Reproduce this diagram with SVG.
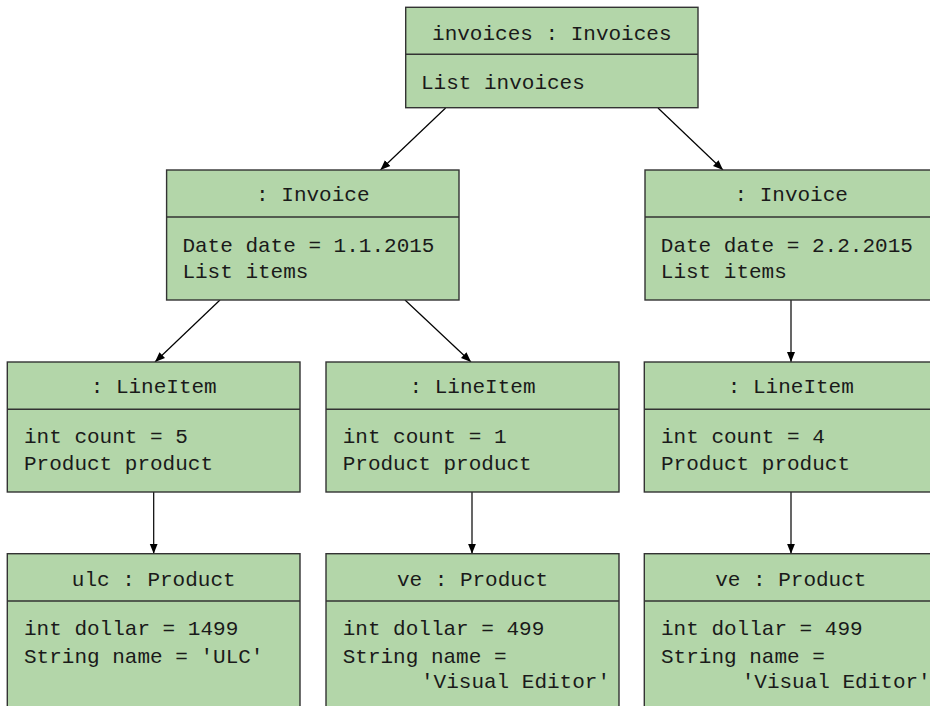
<svg xmlns="http://www.w3.org/2000/svg" width="930" height="706" viewBox="0 0 930 706">
<defs>
<style>
.box{fill:#b3d6a9;stroke:#333;stroke-width:1.4}
.div{stroke:#333;stroke-width:1.4}
.t{font-family:"Liberation Mono","Courier New",monospace;font-size:21px;fill:#1a1a1a}
.c{text-anchor:middle}
.conn{stroke:#000;stroke-width:1.2;fill:none}
</style>
<marker id="ah" viewBox="0 0 10 10" refX="10" refY="5" markerWidth="10" markerHeight="10" markerUnits="userSpaceOnUse" orient="auto">
<path d="M0,1 L10,5 L0,9 Z" fill="#000"/>
</marker>
</defs>
<rect width="930" height="706" fill="#fff"/>
<g id="connectors">
<line class="conn" x1="445.6" y1="108" x2="380.4" y2="170" marker-end="url(#ah)"/>
<line class="conn" x1="658" y1="108" x2="723" y2="170" marker-end="url(#ah)"/>
<line class="conn" x1="220" y1="300" x2="155" y2="362" marker-end="url(#ah)"/>
<line class="conn" x1="405" y1="300" x2="471" y2="362" marker-end="url(#ah)"/>
<line class="conn" x1="791" y1="300" x2="791" y2="362" marker-end="url(#ah)"/>
<line class="conn" x1="153.7" y1="492" x2="153.7" y2="553.7" marker-end="url(#ah)"/>
<line class="conn" x1="472" y1="492" x2="472" y2="553.7" marker-end="url(#ah)"/>
<line class="conn" x1="791" y1="492" x2="791" y2="553.7" marker-end="url(#ah)"/>
</g>
<g id="invoices">
<rect class="box" x="405.7" y="7.3" width="292.3" height="100.4"/>
<line class="div" x1="405.7" y1="54.3" x2="698" y2="54.3"/>
<text class="t c" x="551.8" y="40">invoices : Invoices</text>
<text class="t" x="421" y="89.3">List invoices</text>
</g>
<g id="invoice1">
<rect class="box" x="166.6" y="170" width="292.4" height="130"/>
<line class="div" x1="166.6" y1="217" x2="459" y2="217"/>
<text class="t c" x="312.8" y="201.3">: Invoice</text>
<text class="t" x="182.4" y="251.7">Date date = 1.1.2015</text>
<text class="t" x="182.4" y="278.3">List items</text>
</g>
<g id="invoice2">
<rect class="box" x="645" y="170" width="292.4" height="130"/>
<line class="div" x1="645" y1="217" x2="937.4" y2="217"/>
<text class="t c" x="791.2" y="201.3">: Invoice</text>
<text class="t" x="660.8" y="251.7">Date date = 2.2.2015</text>
<text class="t" x="660.8" y="278.3">List items</text>
</g>
<g id="lineitem1">
<rect class="box" x="7.3" y="362" width="292.7" height="130"/>
<line class="div" x1="7.3" y1="409.3" x2="300" y2="409.3"/>
<text class="t c" x="153.7" y="393.3">: LineItem</text>
<text class="t" x="24" y="443.3">int count = 5</text>
<text class="t" x="24" y="470">Product product</text>
</g>
<g id="lineitem2">
<rect class="box" x="326" y="362" width="293" height="130"/>
<line class="div" x1="326" y1="409.3" x2="619" y2="409.3"/>
<text class="t c" x="472.5" y="393.3">: LineItem</text>
<text class="t" x="342.7" y="443.3">int count = 1</text>
<text class="t" x="342.7" y="470">Product product</text>
</g>
<g id="lineitem3">
<rect class="box" x="644.3" y="362" width="293" height="130"/>
<line class="div" x1="644.3" y1="409.3" x2="937.3" y2="409.3"/>
<text class="t c" x="790.8" y="393.3">: LineItem</text>
<text class="t" x="661" y="443.3">int count = 4</text>
<text class="t" x="661" y="470">Product product</text>
</g>
<g id="product1">
<rect class="box" x="7.3" y="553.7" width="292.7" height="170"/>
<line class="div" x1="7.3" y1="601" x2="300" y2="601"/>
<text class="t c" x="153.7" y="585.7">ulc : Product</text>
<text class="t" x="24" y="635">int dollar = 1499</text>
<text class="t" x="24" y="662.7">String name = 'ULC'</text>
</g>
<g id="product2">
<rect class="box" x="326" y="553.7" width="293" height="170"/>
<line class="div" x1="326" y1="601" x2="619" y2="601"/>
<text class="t c" x="472.5" y="585.7">ve : Product</text>
<text class="t" x="342.7" y="635">int dollar = 499</text>
<text class="t" x="342.7" y="662.7">String name =</text>
<text class="t" x="421" y="688.3">'Visual Editor'</text>
</g>
<g id="product3">
<rect class="box" x="644.3" y="553.7" width="293" height="170"/>
<line class="div" x1="644.3" y1="601" x2="937.3" y2="601"/>
<text class="t c" x="790.8" y="585.7">ve : Product</text>
<text class="t" x="661" y="635">int dollar = 499</text>
<text class="t" x="661" y="662.7">String name =</text>
<text class="t" x="741.7" y="688.3">'Visual Editor'</text>
</g>
</svg>
